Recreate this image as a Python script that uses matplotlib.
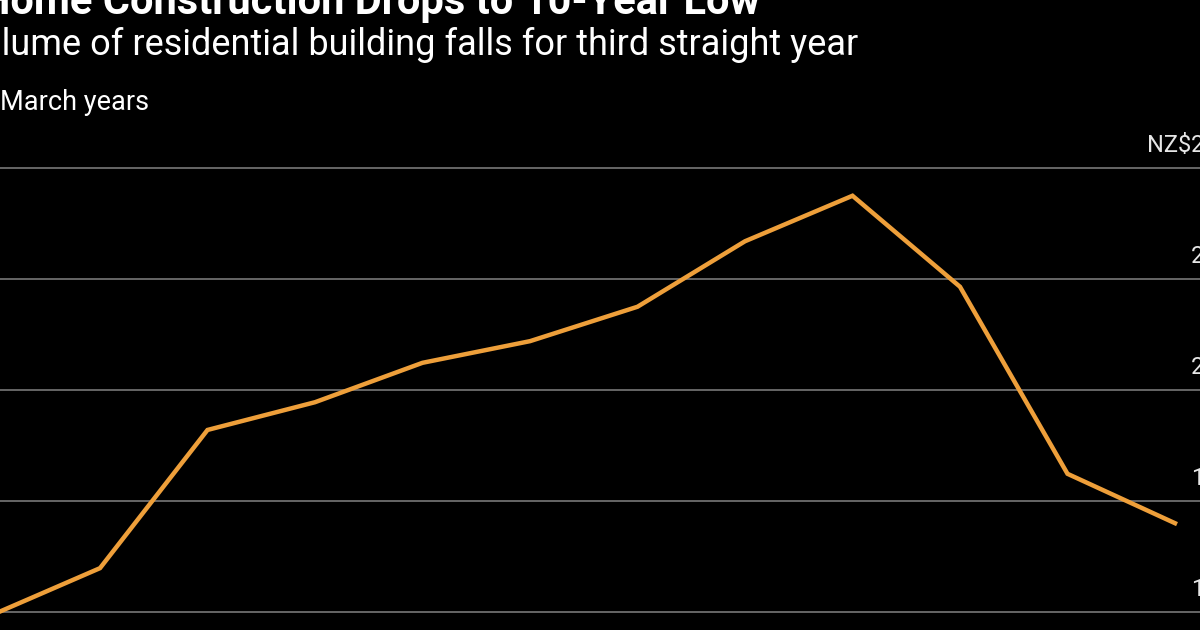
import matplotlib
matplotlib.use("Agg")
import matplotlib.pyplot as plt

# volume of residential building, March years (NZ$ billions)
years = [2014, 2015, 2016, 2017, 2018, 2019, 2020, 2021, 2022, 2023, 2024, 2025]
volume = [15.95, 16.79, 19.28, 19.78, 20.49, 20.88, 21.50, 22.68, 23.50, 21.86, 18.49, 17.60]
yticks = [16, 18, 20, 22, 24]
ytick_labels = ["16", "18", "20", "22", "24B"]

plt.rcParams['font.family'] = ['Roboto', 'DejaVu Sans']

W, H = 1200, 630
fig = plt.figure(figsize=(12, 6.3), dpi=100, facecolor='black')

def px(x, y):
    return x / W, 1 - y / H

ax = fig.add_axes([0, 0, 1, (H - 150) / H])
ax.set_facecolor('black')
ax.plot(years, volume, color='#EE9F3A', lw=3.2, solid_joinstyle='miter', zorder=3)
x0 = 2014 + 7.5 / 107.5
ax.set_xlim(x0, x0 + W / 107.5)
ax.set_ylim(16 - 18 / 55.5, 16 + 462 / 55.5)
for v in yticks:
    ax.axhline(v, color='#6e6e6e', lw=1.3, zorder=1)
ax.set_axis_off()

lab_x = 1 - 9 / W
for v, lab in zip(yticks, ytick_labels):
    ax.annotate(lab, xy=(lab_x, v), xycoords=('axes fraction', 'data'),
                xytext=(0, 16), textcoords='offset points',
                ha='left', va='center', color='#e6e6e6', fontsize=17)
ax.annotate("NZ$", xy=(lab_x, yticks[-1]), xycoords=('axes fraction', 'data'),
            xytext=(0, 16), textcoords='offset points',
            ha='right', va='center', color='#e6e6e6', fontsize=17)

fig.text(*px(760, 14), "Home Construction Drops to 10-Year Low", ha='right',
         va='baseline', color='white', fontsize=30, fontweight='bold')
fig.text(*px(858, 55), "Volume of residential building falls for third straight year",
         ha='right', va='baseline', color='white', fontsize=26)
fig.text(*px(0, 110), "March years", ha='left', va='baseline',
         color='white', fontsize=19.5)

fig.savefig("out.png", dpi=100, facecolor='black')
